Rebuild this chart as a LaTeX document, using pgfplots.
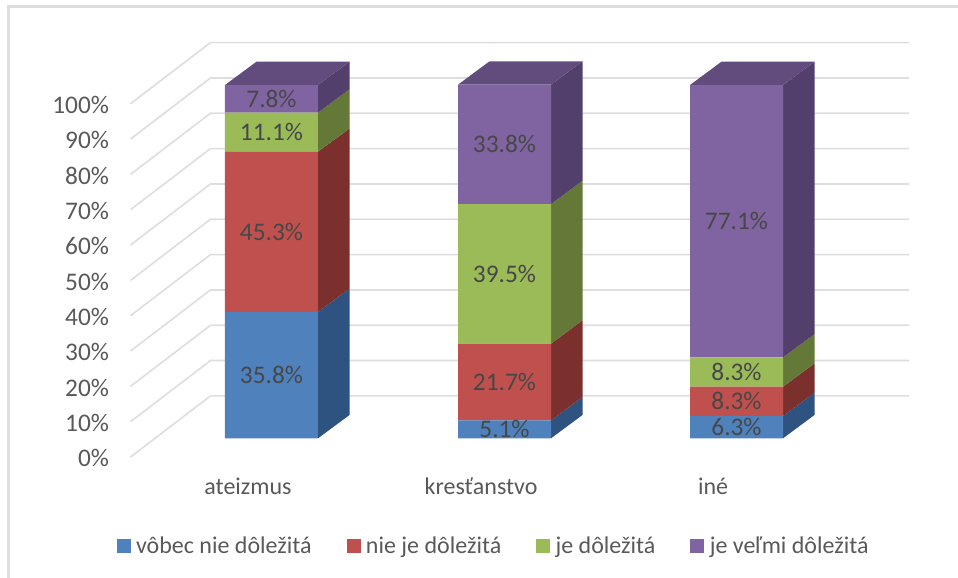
\documentclass[border=0pt]{standalone}
\usepackage{fontspec}
\setmainfont{Carlito}
\usepackage{pgfplots}
\pgfplotsset{compat=1.18}
\definecolor{cblue}{HTML}{4F81BD}
\definecolor{cred}{HTML}{C0504D}
\definecolor{cgreen}{HTML}{9BBB59}
\definecolor{cpurple}{HTML}{8064A2}
\definecolor{sblue}{HTML}{2F5380}
\definecolor{sred}{HTML}{7C302E}
\definecolor{sgreen}{HTML}{647838}
\definecolor{spurple}{HTML}{533F6C}
\definecolor{tpurple}{HTML}{624C7E}
\definecolor{gridc}{HTML}{DEDEDE}
\definecolor{txt}{HTML}{595959}
% one reference pixel is 0.75pt, the axis box runs from pixel (130,470) to (920,30)
\pgfplotsset{
	base/.style={
		scale only axis, width=592.5pt, height=330pt,
		xmin=130, xmax=920, ymin=-8.97, ymax=115.57,
		axis line style={draw=none}, tick style={draw=none},
		clip=false,
	},
	face/.style={fill=#1, draw=none, forget plot},
}
\begin{document}
\begin{tikzpicture}
% walls and the sides of the bars
\begin{axis}[base, ticks=none]
	\addplot[color=gridc, line width=1.7pt] coordinates {
	(8.5,-39.5) (8.5,122.2) (958,122.2)};
	\addplot[color=gridc, line width=1.25pt, unbounded coords=jump] coordinates {
	(130.5,-5.3) (210.5,12) (909,12) (130,nan)
	(130.5,4.7) (210.5,22) (909,22) (130,nan)
	(130.5,14.7) (210.5,32) (909,32) (130,nan)
	(130.5,24.7) (210.5,42) (909,42) (130,nan)
	(130.5,34.7) (210.5,52) (909,52) (130,nan)
	(130.5,44.7) (210.5,62) (909,62) (130,nan)
	(130.5,54.7) (210.5,72) (909,72) (130,nan)
	(130.5,64.7) (210.5,82) (909,82) (130,nan)
	(130.5,74.7) (210.5,92) (909,92) (130,nan)
	(130.5,84.7) (210.5,102) (909,102) (130,nan)
	(130.5,94.7) (210.5,112) (909,112)};
	% ateizmus
	\addplot[face=sblue] coordinates {(318,0) (349.5,6.6) (349.5,42.4) (318,35.8)} -- cycle;
	\addplot[face=sred] coordinates {(318,35.8) (349.5,42.4) (349.5,87.7) (318,81.1)} -- cycle;
	\addplot[face=sgreen] coordinates {(318,81.1) (349.5,87.7) (349.5,98.8) (318,92.2)} -- cycle;
	\addplot[face=spurple] coordinates {(318,92.2) (349.5,98.8) (349.5,106.6) (318,100)} -- cycle;
	\addplot[face=tpurple] coordinates {(225,100) (318,100) (349.5,106.6) (256.5,106.6)} -- cycle;
	% krestanstvo
	\addplot[face=sblue] coordinates {(551,0) (582.5,6.6) (582.5,11.7) (551,5.1)} -- cycle;
	\addplot[face=sred] coordinates {(551,5.1) (582.5,11.7) (582.5,33.4) (551,26.8)} -- cycle;
	\addplot[face=sgreen] coordinates {(551,26.8) (582.5,33.4) (582.5,72.9) (551,66.3)} -- cycle;
	\addplot[face=spurple] coordinates {(551,66.3) (582.5,72.9) (582.5,106.7) (551,100.1)} -- cycle;
	\addplot[face=tpurple] coordinates {(458,100.1) (551,100.1) (582.5,106.7) (489.5,106.7)} -- cycle;
	% ine
	\addplot[face=sblue] coordinates {(783,0) (814.5,6.6) (814.5,12.9) (783,6.3)} -- cycle;
	\addplot[face=sred] coordinates {(783,6.3) (814.5,12.9) (814.5,21.2) (783,14.6)} -- cycle;
	\addplot[face=sgreen] coordinates {(783,14.6) (814.5,21.2) (814.5,29.5) (783,22.9)} -- cycle;
	\addplot[face=spurple] coordinates {(783,22.9) (814.5,29.5) (814.5,106.6) (783,100)} -- cycle;
	\addplot[face=tpurple] coordinates {(690,100) (783,100) (814.5,106.6) (721.5,106.6)} -- cycle;
\end{axis}
% front faces
\begin{axis}[base,
	ybar stacked, bar width=93,
	xtick={271.5,504.5,736.5},
	xticklabels={ateizmus,kresťanstvo,iné},
	ytick={0,10,...,100},
	yticklabel={\pgfmathprintnumber[assume math mode=true]{\tick}\%},
	xticklabel style={font=\fontsize{18}{20}\selectfont, text=txt, xshift=-17.6pt, yshift=-2.25pt},
	yticklabel style={font=\fontsize{19}{20}\selectfont, text=txt, yshift=-15pt, xshift=-12.25pt},
	nodes near coords={\pgfmathprintnumber[assume math mode=true,fixed,fixed zerofill,precision=1]{\pgfplotspointmeta}\%},
	point meta=rawy,
	every node near coord/.append style={font=\fontsize{19}{20}\selectfont, text=black!72},
	legend columns=4,
	legend style={at={(axis cs:494,-30.4)}, anchor=center, draw=none, fill=none,
		font=\fontsize{18}{20}\selectfont, text=txt,
		/tikz/every odd column/.append style={column sep=2pt},
		/tikz/every even column/.append style={column sep=24.25pt}},
	legend image code/.code={\fill[#1] (0pt,-5.25pt) rectangle (10.5pt,5.25pt);},
]
	\addplot[fill=cblue, draw=none] coordinates {(271.5,35.8) (504.5,5.1) (736.5,6.3)};
	\addplot[fill=cred, draw=none] coordinates {(271.5,45.3) (504.5,21.7) (736.5,8.3)};
	\addplot[fill=cgreen, draw=none] coordinates {(271.5,11.1) (504.5,39.5) (736.5,8.3)};
	\addplot[fill=cpurple, draw=none] coordinates {(271.5,7.8) (504.5,33.8) (736.5,77.1)};
	\legend{vôbec nie dôležitá,nie je dôležitá,je dôležitá,je veľmi dôležitá}
\end{axis}
\pgfresetboundingbox
\path (-97.5pt,-81pt) rectangle (621pt,352.5pt);
\end{tikzpicture}
\end{document}
